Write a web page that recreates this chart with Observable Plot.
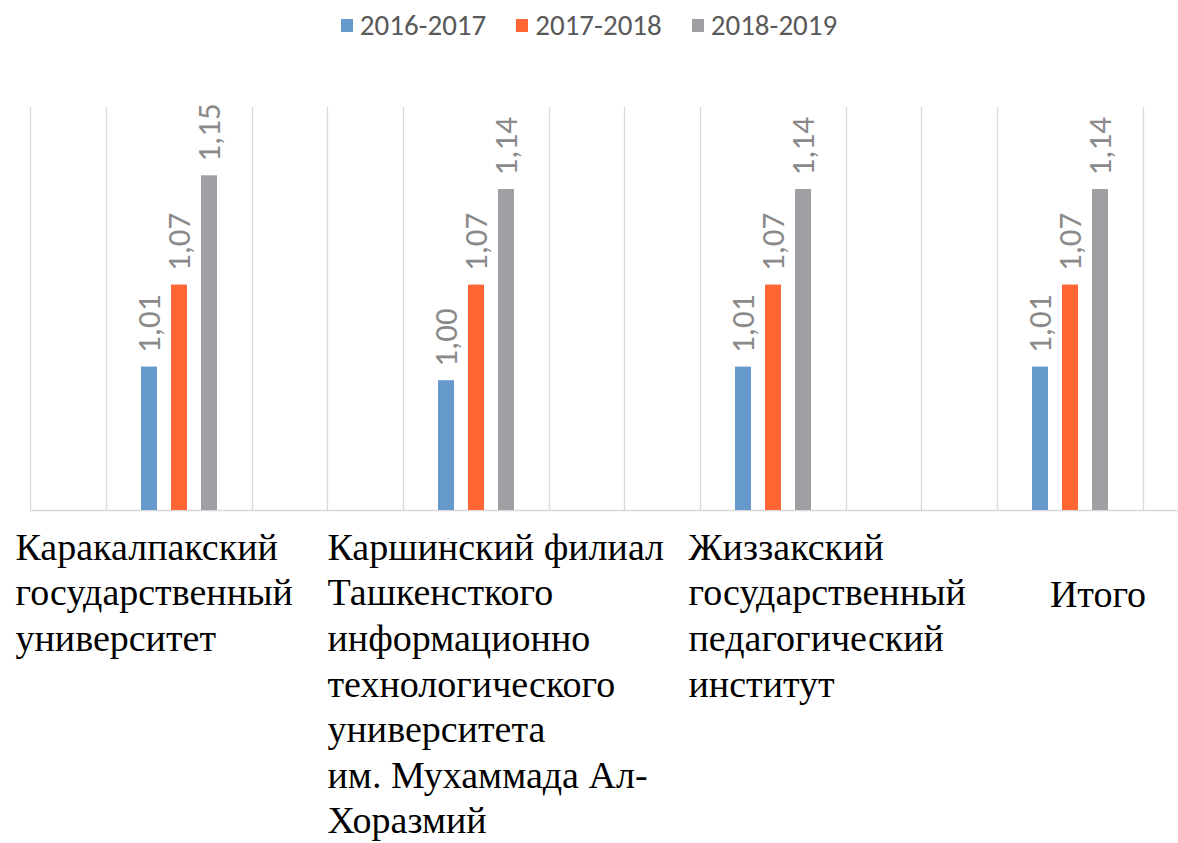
<!DOCTYPE html>
<html>
<head>
<meta charset="utf-8">
<script src="https://cdn.jsdelivr.net/npm/d3@7"></script>
<script src="https://cdn.jsdelivr.net/npm/@observablehq/plot@0.6"></script>
<style>
  html, body { margin: 0; padding: 0; background: #fff; }
  #legend { height: 50px; display: flex; justify-content: center; align-items: center; gap: 30px;
            font-family: Carlito, "Liberation Sans", sans-serif; font-size: 29px; color: #595959; }
  #legend .item { display: flex; align-items: center; gap: 7px; }
  #legend .sw { width: 12px; height: 13px; display: inline-block; }
  #chart svg g[font-size="38"] text, #chart svg g[font-size="38"] tspan {
    font-family: "Liberation Serif", "Times New Roman", serif !important; }
  #chart svg g[font-size="33"] text, #chart svg g[font-size="33"] tspan {
    font-family: Carlito, "Liberation Sans", sans-serif !important; }
</style>
</head>
<body>
<div id="legend"></div>
<div id="chart"></div>
<script>
const categories = [
  "Каракалпакский государственный университет",
  "Каршинский филиал Ташкенсткого информационно технологического университета им. Мухаммада Ал-Хоразмий",
  "Жиззакский государственный педагогический институт",
  "Итого"
];
const categoryLabels = [
  "Каракалпакский\nгосударственный\nуниверситет",
  "Каршинский филиал\nТашкенсткого\nинформационно\nтехнологического\nуниверситета\nим. Мухаммада Ал-\nХоразмий",
  "Жиззакский\nгосударственный\nпедагогический\nинститут",
  "Итого"
];
const series = ["2016-2017", "2017-2018", "2018-2019"];
const values2016 = [1.01, 1.00, 1.01, 1.01];
const values2017 = [1.07, 1.07, 1.07, 1.07];
const values2018 = [1.15, 1.14, 1.14, 1.14];
const colors = ["#6699CC", "#FF6633", "#A0A0A4"];

const seriesValues = [values2016, values2017, values2018];
const data = [];
categories.forEach((c, i) => {
  series.forEach((s, j) => data.push({category: c, series: s, value: seriesValues[j][i]}));
});
const fmt = v => d3.format(".2f")(v).replace(".", ",");

// legend
const legend = document.getElementById("legend");
series.forEach((s, j) => {
  const it = document.createElement("div");
  it.className = "item";
  it.innerHTML = `<span class="sw" style="background:${colors[j]}"></span><span>${s}</span>`;
  legend.appendChild(it);
});

const serif = "Liberation Serif";
const labelStyle = [
  {frameAnchor: "bottom-left", textAnchor: "start", dx: -15, dy: 17},
  {frameAnchor: "bottom-left", textAnchor: "start", dx: 0, dy: 17},
  {frameAnchor: "bottom-left", textAnchor: "start", dx: 64, dy: 17},
  {frameAnchor: "bottom", textAnchor: "middle", dx: 28, dy: 64}
];
const labelMarks = categories.map((c, i) => Plot.text([c], {
  fx: d => d,
  text: () => categoryLabels[i],
  lineAnchor: "top",
  lineHeight: 1.2,
  fontSize: 38,
  fontFamily: serif,
  fill: "#000",
  ...labelStyle[i]
}));

const chart = Plot.plot({
  width: 1178,
  height: 793,
  marginTop: 57,
  marginBottom: 333,
  marginLeft: 30,
  marginRight: -40,
  style: {background: "transparent", overflow: "visible"},
  fx: {domain: categories, padding: 0, axis: null},
  x: {domain: series, paddingInner: 0.47, paddingOuter: 3.68, axis: null},
  y: {domain: [0.905, 1.2], axis: null},
  color: {domain: series, range: colors},
  marks: [
    Plot.frame({anchor: "left", stroke: "#d9d9d9", strokeWidth: 1.3}),
    Plot.ruleX(categories, {fx: d => d, x: () => "2017-2018", dx: -73, stroke: "#d9d9d9", strokeWidth: 1.3}),
    Plot.ruleX(categories, {fx: d => d, x: () => "2017-2018", dx: 73, stroke: "#d9d9d9", strokeWidth: 1.3}),
    Plot.ruleY([0.905], {stroke: "#d9d9d9", strokeWidth: 1.5}),
    Plot.barY(data, {fx: "category", x: "series", y1: 0.905, y2: "value", fill: "series"}),
    Plot.text(data, {
      fx: "category", x: "series", y: "value",
      text: d => fmt(d.value),
      rotate: -90, textAnchor: "start", lineAnchor: "middle", dy: -14,
      fontSize: 33, fontFamily: "Carlito", fill: "#8a8a8a"
    }),
    ...labelMarks
  ]
});
document.getElementById("chart").appendChild(chart);
chart.querySelectorAll('g[font-size="38"] text, g[font-size="38"] tspan').forEach(t => {
  t.setAttribute("font-family", "Liberation Serif");
  t.style.fontFamily = "'Liberation Serif', serif";
});
chart.querySelectorAll('g[font-size="33"] text').forEach(t => {
  t.setAttribute("font-family", "Carlito");
  t.style.fontFamily = "Carlito, sans-serif";
});
</script>
</body>
</html>
